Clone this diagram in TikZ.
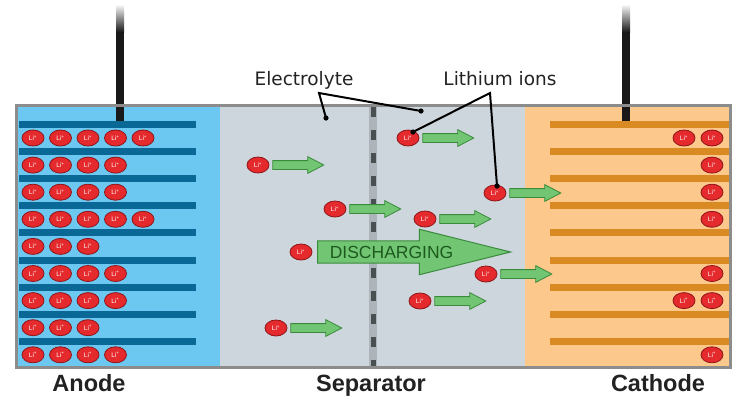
\documentclass[tikz,border=0pt]{standalone}
\usepackage{fontspec}
\setmainfont{Liberation Sans}
\newfontfamily\calloutfont{DejaVu Sans}
\usetikzlibrary{positioning, shapes.arrows, shapes.geometric}

\definecolor{anodebg}{HTML}{6CC8F0}
\definecolor{anodebar}{HTML}{0A6896}
\definecolor{sepbg}{HTML}{CDD6DC}
\definecolor{seplight}{HTML}{AEB5BA}
\definecolor{sepdark}{HTML}{4A4F52}
\definecolor{cathbg}{HTML}{FDC88C}
\definecolor{cathbar}{HTML}{D98A22}
\definecolor{ionred}{HTML}{E52A2D}
\definecolor{iondark}{HTML}{8E1518}
\definecolor{flowgreen}{HTML}{72C673}
\definecolor{flowdark}{HTML}{3A8A3C}
\definecolor{flowtext}{HTML}{1C5A1E}
\definecolor{boxgray}{HTML}{8C8C8C}
\definecolor{labeltext}{HTML}{222222}

\begin{document}
\begin{tikzpicture}[
    x=1pt, y=-1pt,
    ion/.style={ellipse, draw=iondark, fill=ionred, line width=0.8pt,
        minimum width=22pt, minimum height=16pt, inner sep=0pt,
        text=white, font=\fontsize{6.5}{7}\selectfont},
    flow/.style={single arrow, draw=flowdark, fill=flowgreen, line width=0.8pt,
        minimum height=51pt, inner xsep=0pt, inner ysep=4pt,
        single arrow head extend=4pt, single arrow tip angle=55},
    callout/.style={text=labeltext, font=\calloutfont\fontsize{18.5}{20}\selectfont},
    part/.style={anchor=base, text=labeltext, font=\bfseries\fontsize{23.5}{25}\selectfont},
    leader/.style={draw=black, line width=2pt}
]
    \useasboundingbox (0,0) rectangle (741,400);

    % cell regions
    \fill[anodebg] (16,105) rectangle (220,367);
    \fill[sepbg] (220,105) rectangle (525,367);
    \fill[cathbg] (525,105) rectangle (730,367);

    % separator membrane
    \fill[seplight] (369,105) rectangle (377,367);
    \draw[sepdark, line width=5pt, dash pattern=on 10pt off 13pt] (373,107) -- (373,367);

    % electrode plates
    \foreach \r in {0,...,8} {
        \fill[anodebar] (19,{120.5+27.2*\r}) rectangle (196,{127.5+27.2*\r});
        \fill[cathbar] (550,{120.5+27.2*\r}) rectangle (729,{127.5+27.2*\r});
    }

    % terminals
    \shade[top color=white, bottom color=black!90] (116,4) rectangle (124,32);
    \fill[black!90] (116,32) rectangle (124,121);
    \shade[top color=white, bottom color=black!90] (622,4) rectangle (630,32);
    \fill[black!90] (622,32) rectangle (630,121);

    % cell outline
    \draw[boxgray, line width=3pt] (16,105) rectangle (730,367);

    % ions stored in the anode
    \foreach \n [count=\r] in {5,4,4,5,3,4,4,3,4}
        \foreach \c in {1,...,\n}
            \node[ion] (a-\r-\c) at ({33+27.5*(\c-1)},{138+27.1*(\r-1)}) {Li\textsuperscript{+}};

    % ions taken up by the cathode
    \foreach \x/\r [count=\i] in {684/1, 712/1, 712/2, 712/3, 712/4, 712/6, 684/7, 712/7, 712/9}
        \node[ion] (c\i) at (\x,{138+27.1*(\r-1)}) {Li\textsuperscript{+}};

    % ions moving through the electrolyte
    \foreach \x/\y [count=\i] in {408/138, 258/165, 495/193, 335/209, 425/219, 486/274, 420/301, 276/328} {
        \node[ion] (s\i) at (\x,\y) {Li\textsuperscript{+}};
        \node[flow, right=3pt of s\i] (f\i) {};
    }
    \node[ion] (s9) at (301,252) {Li\textsuperscript{+}};

    % discharge direction
    \node[single arrow, draw=flowdark, fill=flowgreen, line width=1pt,
        minimum height=193pt, inner xsep=0pt, inner ysep=4.5pt,
        single arrow head extend=11.5pt, single arrow tip angle=28,
        anchor=tail, text=flowtext, font=\fontsize{17.5}{18}\selectfont]
        (discharge) at (317,252) {DISCHARGING};

    % callouts
    \node[callout] (electrolyte) at (304,80) {Electrolyte};
    \node[callout] (lithium) at (500,79) {Lithium ions};
    \coordinate (e-apex) at (319,93);
    \coordinate (e-left) at (326,118);
    \coordinate (e-right) at (421,111);
    \coordinate (l-apex) at (490,93);
    \coordinate (l-upper) at (413,132);
    \coordinate (l-lower) at (497,186);
    \draw[leader] (e-left) -- (e-apex) -- (e-right);
    \draw[leader] (l-upper) -- (l-apex) -- (l-lower);
    \foreach \p in {e-left, e-right, l-upper, l-lower}
        \fill (\p) circle (2.6pt);

    % part names
    \node[part] (anode) at (89,391) {Anode};
    \node[part] (separator) at (371,391) {Separator};
    \node[part] (cathode) at (658,391) {Cathode};
\end{tikzpicture}
\end{document}
